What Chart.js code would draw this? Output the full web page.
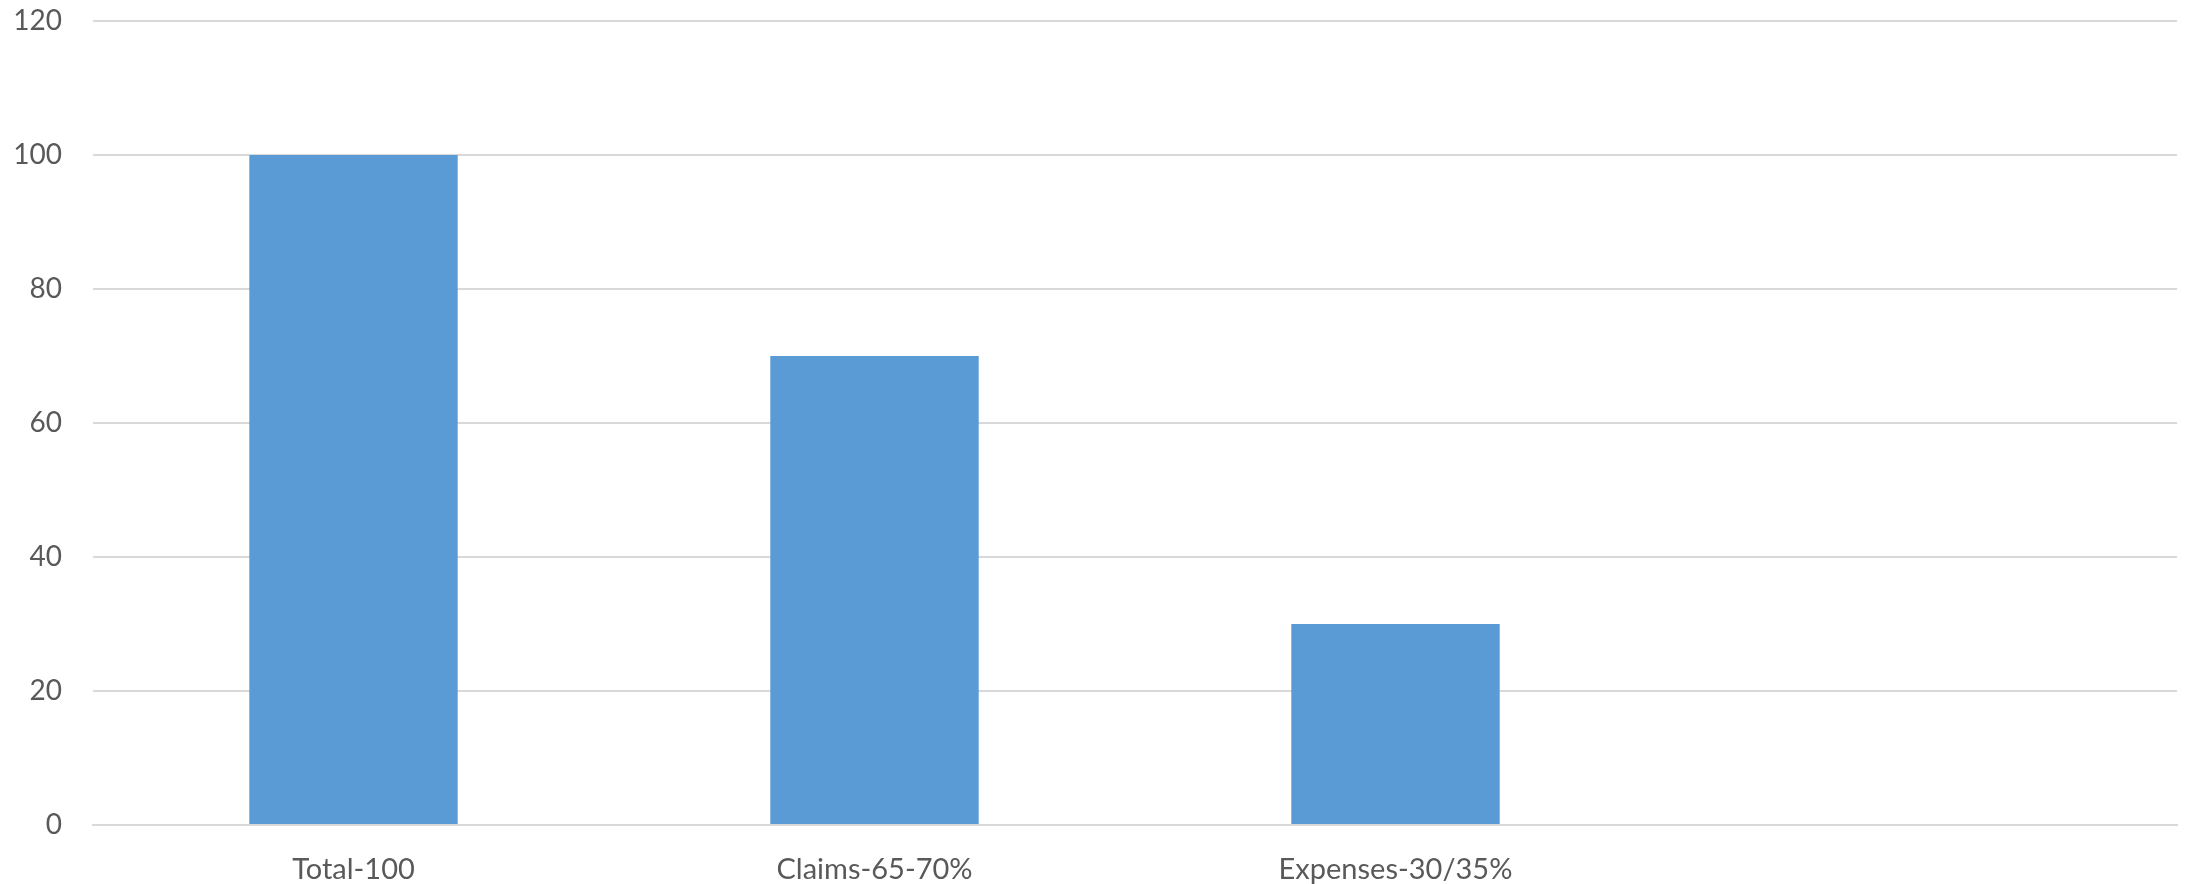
<!DOCTYPE html>
<html>
<head>
<meta charset="utf-8">
<script src="https://cdn.jsdelivr.net/npm/chart.js@4/dist/chart.umd.min.js"></script>
<style>
html,body{margin:0;padding:0;background:#fff;}
#wrap{width:2190px;height:884px;position:relative;}
</style>
</head>
<body>
<div id="wrap"><canvas id="c" width="2190" height="884"></canvas></div>
<script>
const categories = ['Total-100', 'Claims-65-70%', 'Expenses-30/35%', ''];
const values = [100, 70, 30, null];
const yTicks = [0, 20, 40, 60, 80, 100, 120];

const grey = '#595959';
const gridColor = '#d9d9d9';

new Chart(document.getElementById('c'), {
  type: 'bar',
  data: {
    labels: categories,
    datasets: [{
      data: values,
      backgroundColor: '#5b9bd5',
      borderWidth: 0,
      categoryPercentage: 1.0,
      barPercentage: 0.4
    }]
  },
  options: {
    responsive: false,
    animation: false,
    layout: { padding: { top: 21, right: 13, left: 0, bottom: 0 } },
    plugins: { legend: { display: false }, tooltip: { enabled: false } },
    scales: {
      x: {
        grid: { display: false, drawTicks: false },
        border: { display: true, color: gridColor, width: 2 },
        ticks: { color: grey, font: { family: 'Lato', size: 29 }, padding: 27, maxRotation: 0, autoSkip: false },
        afterFit: s => { s.height = 59; }
      },
      y: {
        min: 0, max: 120,
        afterBuildTicks: s => { s.ticks = yTicks.map(v => ({ value: v })); },
        grid: { color: gridColor, lineWidth: 2, drawTicks: false },
        border: { display: false },
        ticks: { color: grey, font: { family: 'Lato', size: 28 }, padding: 31 },
        afterFit: s => { s.width = 93; s.paddingTop = 0; s.paddingBottom = 0; }
      }
    }
  }
});
</script>
</body>
</html>
